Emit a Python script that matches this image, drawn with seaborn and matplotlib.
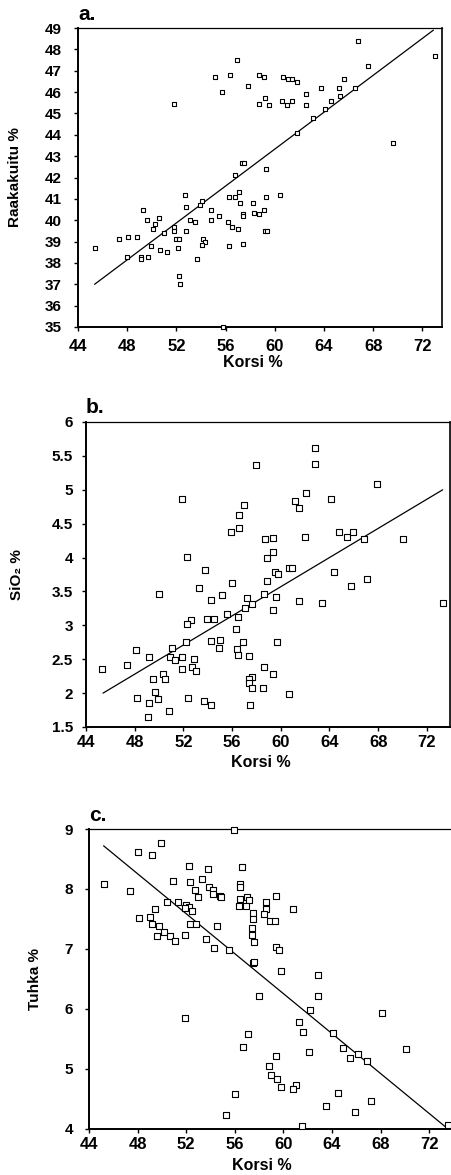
import matplotlib
matplotlib.use("Agg")
import matplotlib.pyplot as plt
from matplotlib.ticker import MultipleLocator, FuncFormatter
import seaborn as sns

# ---------------- data ----------------
korsi_a = [66.8, 73.0, 56.9, 67.6, 55.1, 56.4, 58.7, 59.1, 60.7, 61.1, 61.4, 61.8, 65.6, 57.8,
           63.8, 65.2, 66.5, 55.7, 62.5, 51.8, 59.2, 58.7, 59.5, 60.6, 61.4, 61.0, 62.5, 64.6,
           64.1, 65.3, 63.1, 61.8, 69.6, 57.3, 57.5, 59.3, 56.8, 52.7, 53.9, 54.1, 52.8, 54.8,
           49.3, 49.6, 50.6, 50.3, 50.1, 51.0, 51.8, 51.8, 52.8, 53.1, 53.5, 54.8, 55.5, 56.2,
           56.5, 57.0, 56.3, 56.8, 57.1, 57.2, 57.4, 57.4, 58.2, 58.3, 58.7, 59.1, 59.3, 60.4,
           59.2, 59.4, 47.3, 48.1, 48.8, 49.9, 50.7, 51.2, 48.0, 49.1, 49.7, 49.1, 52.0, 52.2,
           52.1, 54.2, 54.3, 54.1, 53.7, 56.3, 57.4, 45.4, 52.2, 52.3, 55.8]
raakakuitu = [48.4, 47.7, 47.5, 47.2, 46.7, 46.8, 46.8, 46.7, 46.7, 46.6, 46.6, 46.45, 46.6, 46.3,
              46.2, 46.2, 46.2, 46.0, 45.9, 45.45, 45.7, 45.45, 45.4, 45.6, 45.6, 45.4, 45.4, 45.6,
              45.2, 45.8, 44.8, 44.1, 43.6, 42.7, 42.7, 42.4, 42.1, 41.2, 40.7, 40.9, 40.6, 40.5,
              40.5, 40.0, 40.1, 39.8, 39.6, 39.4, 39.7, 39.5, 39.5, 40.0, 39.9, 40.0, 40.2, 39.9,
              39.7, 39.6, 41.1, 41.1, 41.3, 40.8, 40.3, 40.2, 40.8, 40.35, 40.3, 40.5, 41.1, 41.2,
              39.5, 39.5, 39.1, 39.2, 39.2, 38.8, 38.6, 38.5, 38.3, 38.3, 38.3, 38.2, 39.1, 39.1,
              38.7, 39.1, 39.0, 38.85, 38.2, 38.8, 38.9, 38.7, 37.4, 37.0, 35.0]
fit_a_x = [45.35, 72.9]
fit_a_y = [37.0, 48.9]

korsi_b = [62.8, 62.8, 58.0, 67.9, 51.9, 64.1, 62.1, 61.2, 61.5, 57.0, 56.6, 56.6, 55.9, 62.0,
           58.7, 59.4, 64.8, 65.4, 65.9, 66.8, 70.0, 52.3, 58.9, 59.4, 53.8, 60.7, 60.9, 59.5,
           59.8, 64.4, 67.1, 58.9, 65.8,
           53.3, 50.0, 55.2, 56.0, 54.3, 58.6, 59.6, 57.2, 57.6, 57.1, 61.5, 63.4, 73.3, 59.4,
           55.6, 56.5, 52.6, 52.3, 53.9, 54.5, 56.3, 52.2, 54.3, 55.0, 56.9, 59.7, 51.1, 54.9,
           56.4, 56.5, 57.4, 48.1, 49.2, 50.9, 51.3, 51.9, 52.9, 47.4, 45.3, 51.9, 52.7, 53.0,
           50.3, 50.5, 49.5, 58.6, 59.4, 57.6, 57.4, 57.4, 57.6, 58.5, 60.7, 49.7, 48.2, 49.2,
           49.9, 52.4, 53.7, 54.3, 57.5, 50.8, 49.1]
sio2 = [5.62, 5.38, 5.37, 5.09, 4.87, 4.87, 4.95, 4.83, 4.73, 4.78, 4.63, 4.43, 4.37, 4.31,
        4.28, 4.29, 4.37, 4.31, 4.38, 4.27, 4.27, 4.01, 4.00, 4.08, 3.82, 3.84, 3.84, 3.79,
        3.76, 3.79, 3.69, 3.66, 3.58,
        3.55, 3.46, 3.45, 3.62, 3.38, 3.46, 3.42, 3.40, 3.32, 3.25, 3.36, 3.33, 3.33, 3.23,
        3.17, 3.12, 3.08, 3.02, 3.09, 3.09, 2.94, 2.75, 2.77, 2.79, 2.75, 2.75, 2.66, 2.66,
        2.65, 2.56, 2.55, 2.63, 2.53, 2.53, 2.49, 2.53, 2.51, 2.41, 2.35, 2.35, 2.38, 2.33,
        2.28, 2.21, 2.21, 2.38, 2.28, 2.24, 2.21, 2.15, 2.07, 2.08, 1.98, 2.02, 1.93, 1.86,
        1.91, 1.93, 1.88, 1.83, 1.83, 1.73, 1.65]
fit_b_x = [45.4, 73.3]
fit_b_y = [2.0, 5.0]

korsi_c = [55.9, 49.9, 48.0, 49.2, 52.2, 53.8, 56.6, 45.2, 47.4, 50.9, 52.3, 53.3, 56.4, 56.4,
           53.9, 52.7, 54.2, 54.2, 53.0, 54.8, 54.9, 57.0, 57.2, 56.4, 59.4, 58.6, 50.4, 51.3,
           52.0, 52.2, 52.5, 51.9, 49.4, 56.3, 56.9, 57.5, 58.6, 60.8, 57.5, 58.4, 58.9, 59.3,
           48.1, 49.0, 49.2, 49.8, 50.2, 52.3, 52.8, 54.5, 57.4, 57.4, 49.6, 50.7, 51.1, 51.9,
           53.6, 57.6, 54.3, 55.5, 59.4, 59.6, 57.5, 57.6, 59.8, 62.8, 58.0, 62.8,
           51.9, 62.2, 68.1, 61.3, 61.6, 64.1, 57.1, 56.7, 64.9, 62.1, 70.1, 65.5, 66.1, 66.9,
           59.4, 58.8, 59.0, 59.5, 59.8, 61.0, 60.8, 56.0, 64.5, 67.2, 63.5, 65.9, 55.3, 61.5,
           73.5]
tuhka = [8.98, 8.77, 8.62, 8.56, 8.38, 8.34, 8.36, 8.09, 7.97, 8.14, 8.12, 8.16, 8.08, 8.04,
         8.03, 7.98, 7.98, 7.92, 7.86, 7.88, 7.87, 7.86, 7.82, 7.83, 7.89, 7.78, 7.79, 7.79,
         7.73, 7.70, 7.63, 7.68, 7.66, 7.71, 7.71, 7.60, 7.66, 7.67, 7.50, 7.58, 7.47, 7.46,
         7.52, 7.53, 7.42, 7.39, 7.29, 7.42, 7.42, 7.39, 7.35, 7.24, 7.21, 7.21, 7.14, 7.24,
         7.17, 7.12, 7.02, 6.99, 7.03, 6.98, 6.77, 6.78, 6.64, 6.57, 6.22, 6.21,
         5.85, 5.98, 5.93, 5.79, 5.62, 5.60, 5.59, 5.36, 5.35, 5.29, 5.33, 5.18, 5.25, 5.13,
         5.21, 5.05, 4.90, 4.83, 4.70, 4.74, 4.66, 4.58, 4.60, 4.46, 4.38, 4.29, 4.23, 4.05,
         4.06]
fit_c_x = [45.2, 73.3]
fit_c_y = [8.72, 4.04]

panel_letters = ["a.", "b.", "c."]
y_titles = ["Raakakuitu %", "SiO\u2082 %", "Tuhka %"]
x_title = "Korsi %"

# ---------------- style ----------------
sns.set_theme(style="white")
plt.rcParams["font.family"] = ["Liberation Sans", "DejaVu Sans"]
plt.rcParams["font.weight"] = "bold"
plt.rcParams["axes.labelweight"] = "bold"

W, H = 452, 1175
fig = plt.figure(figsize=(W / 100, H / 100), dpi=100)


def px_axes(l, r, t, b):
    return fig.add_axes([l / W, 1 - b / H, (r - l) / W, (b - t) / H])


panels = [
    dict(box=(78, 442, 28, 327), x=korsi_a, y=raakakuitu, fx=fit_a_x, fy=fit_a_y,
         ylim=(35, 49), ystep=1, xlim=(44, 73.6), ylab_x=-0.155, xlab_y=-0.095,
         right=True, ms=11, ypad=8.5, xpad=6.0),
    dict(box=(86, 450, 422, 727), x=korsi_b, y=sio2, fx=fit_b_x, fy=fit_b_y,
         ylim=(1.5, 6), ystep=0.5, xlim=(44, 73.9), ylab_x=-0.17, xlab_y=-0.092,
         right=True, ms=14, ypad=6.3, xpad=3.0),
    dict(box=(89, 450, 829, 1129), x=korsi_c, y=tuhka, fx=fit_c_x, fy=fit_c_y,
         ylim=(4, 9), ystep=1, xlim=(44, 73.7), ylab_x=-0.13, xlab_y=-0.097,
         right=False, ms=14, ypad=8.5, xpad=3.0),
]

for i, p in enumerate(panels):
    ax = px_axes(*p["box"])
    sns.lineplot(x=p["fx"], y=p["fy"], ax=ax, color="black", linewidth=0.9, zorder=2)
    sns.scatterplot(x=p["x"], y=p["y"], ax=ax, marker="s", s=p["ms"], color="white",
                    edgecolor="black", linewidth=0.8, zorder=3, clip_on=False)
    ax.set_xlim(*p["xlim"])
    ax.set_ylim(*p["ylim"])
    ax.xaxis.set_major_locator(MultipleLocator(4))
    ax.xaxis.set_minor_locator(MultipleLocator(2))
    ax.yaxis.set_major_locator(MultipleLocator(p["ystep"]))
    ax.yaxis.set_major_formatter(FuncFormatter(lambda v, pos: f"{v:g}"))
    ax.tick_params(axis="both", which="major", direction="out", length=3, width=1,
                   colors="black")
    ax.tick_params(axis="y", which="major", labelsize=11, pad=p["ypad"])
    ax.tick_params(axis="x", which="major", labelsize=12, pad=p["xpad"])
    ax.tick_params(axis="x", which="minor", direction="out", length=2.5, width=1)
    ax.tick_params(left=True, bottom=True)
    for lab in ax.get_xticklabels() + ax.get_yticklabels():
        lab.set_fontweight("bold")
    ax.spines["left"].set_linewidth(1.4)
    ax.spines["bottom"].set_linewidth(1.4)
    ax.spines["top"].set_linewidth(0.9)
    ax.spines["right"].set_linewidth(1.2)
    ax.spines["right"].set_visible(p["right"])
    for s in ax.spines.values():
        s.set_color("black")
    ax.set_xlabel(x_title, fontsize=11.5, fontweight="bold", color="black")
    ax.set_ylabel(y_titles[i], fontsize=11, fontweight="bold", color="black")
    ax.xaxis.set_label_coords(0.48, p["xlab_y"])
    ax.yaxis.set_label_coords(p["ylab_x"], 0.5)
    ax.xaxis.label.set_va("top")
    ax.text(0.0, 1.015, panel_letters[i], transform=ax.transAxes, ha="left", va="bottom",
            fontsize=15, fontweight="bold", color="black")

fig.savefig("out.png", dpi=100)
